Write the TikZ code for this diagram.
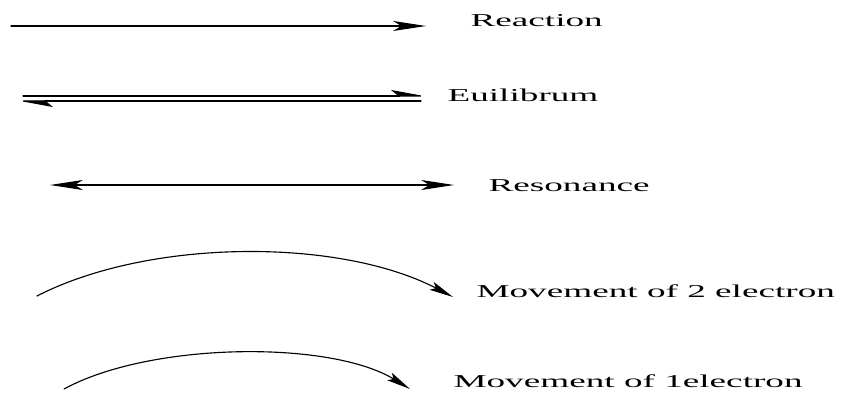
\documentclass[tikz,border=0pt]{standalone}
\usepackage{fontspec}
\setmainfont{Liberation Serif}
\usetikzlibrary{arrows.meta}

\begin{document}
\begin{tikzpicture}[x=0.025cm,y=-0.025cm,line cap=round,line join=round,
  lbl/.style={anchor=base west,inner sep=0pt,xscale=2.05,font=\fontsize{12.9}{14}\selectfont},
  bigtip/.tip={Stealth[length=0.82cm,width=0.25cm,inset=0.2cm]},
  halftip/.tip={Stealth[harpoon,length=0.82cm,width=0.3cm,inset=0.18cm]},
  curvetip/.tip={Stealth[length=0.6cm,width=0.22cm,inset=0.12cm]}]
  \useasboundingbox (0,0) rectangle (845,400);
  \coordinate (ra) at (11,26);
  \coordinate (rb) at (426,26);
  \coordinate (ea) at (23,96);
  \coordinate (eb) at (427,96);
  \coordinate (ec) at (17,101);
  \coordinate (ed) at (421,101);
  \coordinate (sa) at (50,185);
  \coordinate (sb) at (454,185);
  \coordinate (ma) at (37,296);
  \coordinate (mb) at (453,297);
  \coordinate (na) at (64,389);
  \coordinate (nb) at (410,389);
  \node[lbl] (reaction) at (470,27) {Reaction};
  \node[lbl] (equil) at (447,102) {Euilibrum};
  \node[lbl] (reson) at (488,191) {Resonance};
  \node[lbl] (move2) at (476,297) {Movement of 2 electron};
  \node[lbl] (move1) at (453,387) {Movement of 1electron};
  \draw[line width=0.9pt,-bigtip] (ra) -- (rb);
  \draw[line width=0.8pt,-halftip] (ea) -- (eb);
  \draw[line width=0.8pt,-halftip] (ed) -- (ec);
  \draw[line width=0.8pt,bigtip-bigtip] (sa) -- (sb);
  \draw[line width=0.8pt,-curvetip] (ma) .. controls (150,238) and (340,238) .. (mb);
  \draw[line width=0.8pt,-curvetip] (na) .. controls (150,342) and (330,340) .. (nb);
\end{tikzpicture}
\end{document}
